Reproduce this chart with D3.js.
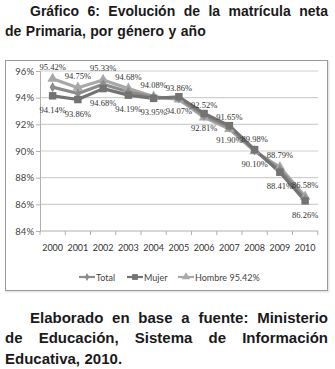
<!DOCTYPE html>
<html><head><meta charset="utf-8">
<script src="https://cdn.jsdelivr.net/npm/d3@7"></script>
<style>body{margin:0;background:#fff}svg{display:block}</style>
</head><body>
<svg id="c" width="335" height="369"></svg>
<script>
const years = ["2000","2001","2002","2003","2004","2005","2006","2007","2008","2009","2010"];
const hombre = [95.42,94.75,95.33,94.68,94.08,93.86,92.52,91.65,89.98,88.79,86.58];
const mujer  = [94.14,93.86,94.68,94.19,93.95,94.07,92.81,91.90,90.10,88.41,86.26];
const total  = [94.79,94.31,95.01,94.44,94.02,93.96,92.66,91.77,90.04,88.60,86.42];
const yTicks = [84,86,88,90,92,94,96];
const legendLabels = ["Total","Mujer","Hombre 95.42%"];
const titleLines = [["Gráfico","6:","Evolución","de","la","matrícula","neta"],["de","Primaria,","por","género","y","año"]];
const footLines = [["Elaborado","en","base","a","fuente:","Ministerio"],["de","Educación,","Sistema","de","Información"],["Educativa,","2010."]];

const svg = d3.select("#c");
const axFont = "9px Lato, 'Open Sans', sans-serif";

function textBlock(lines, x0, x1, indent, y0, lh, font){
  lines.forEach((words,i)=>{
    const y = y0 + i*lh;
    const start = x0 + (i===0?indent:0);
    const g = svg.append("g");
    const ts = words.map(w=>g.append("text").attr("y",y).style("font",font).attr("fill","#1a1a1a").text(w));
    const widths = ts.map(t=>t.node().getComputedTextLength());
    const sum = d3.sum(widths);
    const last = i===lines.length-1;
    const gap = last ? 4.5 : (x1 - start - sum)/(words.length-1);
    let x = start;
    ts.forEach((t,k)=>{t.attr("x",x); x += widths[k]+gap;});
  });
}
textBlock(titleLines, 5, 328, 25, 16, 19.5, "bold 14px 'Liberation Sans', Arial, sans-serif");
textBlock(footLines, 5, 328, 25, 323, 20.3, "bold 15px 'Liberation Sans', Arial, sans-serif");

// chart frame
svg.append("rect").attr("x",6.5).attr("y",61.5).attr("width",322).attr("height",230).attr("fill","none").attr("stroke","#e6e6e6").attr("stroke-width",2);
svg.append("rect").attr("x",5.5).attr("y",60.5).attr("width",322).attr("height",230).attr("fill","#fff").attr("stroke","#9a9a9a").attr("stroke-width",1);

const x = d3.scalePoint().domain(years).range([40,317.75]).padding(0.5);
const y = d3.scaleLinear().domain([84,96]).range([231,71]);

// gridlines
svg.append("g").selectAll("line").data(yTicks.slice(1)).join("line")
  .attr("x1",40).attr("x2",318).attr("y1",d=>y(d)).attr("y2",d=>y(d))
  .attr("stroke","#d0d0d0").attr("stroke-width",1.2);

// axes
const yAxis = svg.append("g").attr("transform","translate(40,0)")
  .call(d3.axisLeft(y).tickValues(yTicks).tickSize(4).tickFormat(d=>d+"%"));
yAxis.select(".domain").attr("stroke","#b0b0b0");
yAxis.selectAll(".tick line").attr("stroke","#b0b0b0");
yAxis.selectAll("text").attr("fill","#444").style("font","9.5px Lato, sans-serif").attr("x",-6);

const step = x.step();
const xAxis = svg.append("g").attr("transform","translate(0,231)");
xAxis.append("line").attr("x1",40).attr("x2",318).attr("stroke","#b0b0b0").attr("stroke-width",1.2);
xAxis.selectAll("line.t").data(d3.range(years.length+1)).join("line").attr("class","t")
  .attr("x1",i=>40+i*step).attr("x2",i=>40+i*step).attr("y1",0).attr("y2",4).attr("stroke","#b0b0b0");
xAxis.selectAll("text").data(years).join("text")
  .attr("x",d=>x(d)).attr("y",20).attr("text-anchor","middle")
  .attr("fill","#333").style("font",axFont).text(d=>d);

const series = [
  {name:"Hombre", vals:hombre, color:"#a8a8a8", sym:d3.symbolTriangle, size:48},
  {name:"Total", vals:total, color:"#8c8c8c", sym:d3.symbolDiamond, size:30},
  {name:"Mujer", vals:mujer, color:"#737373", sym:d3.symbolSquare, size:56},
];
const line = d3.line().x((d,i)=>x(years[i])).y(d=>y(d));
series.forEach(s=>{
  svg.append("path").datum(s.vals).attr("d",line).attr("fill","none")
    .attr("stroke",s.color).attr("stroke-width",3.2).attr("stroke-linejoin","round");
});
series.forEach(s=>{
  svg.append("g").selectAll("path").data(s.vals).join("path")
    .attr("transform",(d,i)=>`translate(${x(years[i])},${y(d)})`)
    .attr("d",d3.symbol().type(s.sym).size(s.size)).attr("fill",s.color);
});

// data labels
const lblFont = "8.5px 'Liberation Serif', 'DejaVu Serif', serif";
svg.append("g").selectAll("text").data(hombre).join("text")
  .attr("x",(d,i)=>x(years[i])).attr("y",d=>y(d)-9).attr("text-anchor","middle")
  .attr("fill","#333").style("font",lblFont).text(d=>d.toFixed(2)+"%");
svg.append("g").selectAll("text").data(mujer).join("text")
  .attr("x",(d,i)=>x(years[i])).attr("y",d=>y(d)+17).attr("text-anchor","middle")
  .attr("fill","#333").style("font",lblFont).text(d=>d.toFixed(2)+"%");

// legend
const legSeries = [series[1],series[2],series[0]];
const legX = [79,127,178];
const lg = svg.append("g").attr("transform","translate(0,277)");
legSeries.forEach((s,i)=>{
  lg.append("line").attr("x1",legX[i]).attr("x2",legX[i]+16).attr("stroke",s.color).attr("stroke-width",2.2);
  lg.append("path").attr("transform",`translate(${legX[i]+8},0)`)
    .attr("d",d3.symbol().type(s.sym).size(s.size*0.6)).attr("fill",s.color);
  lg.append("text").attr("x",legX[i]+17).attr("y",3.5).attr("fill","#444")
    .style("font",axFont).text(legendLabels[i]);
});
</script>
</body></html>
